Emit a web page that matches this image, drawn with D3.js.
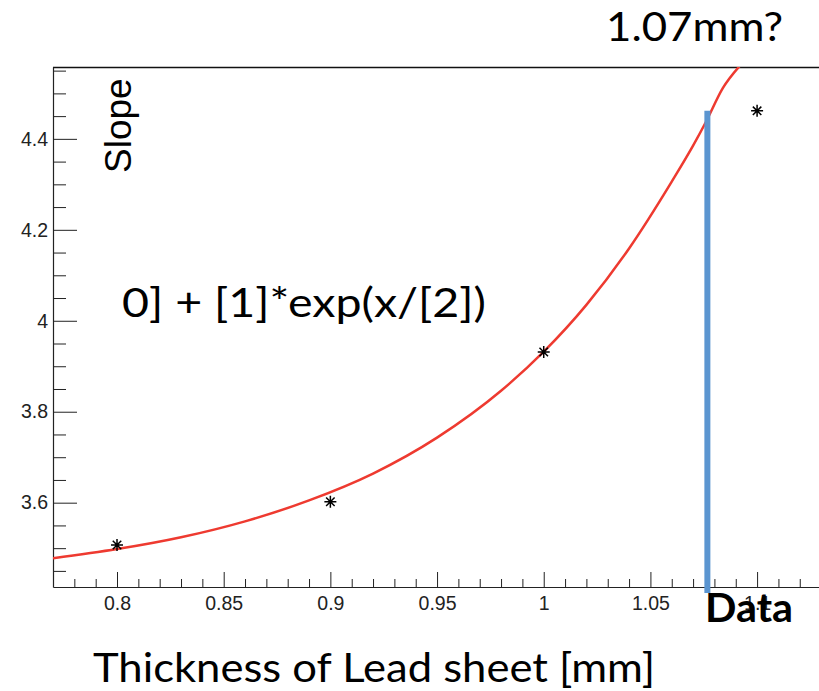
<!DOCTYPE html>
<html>
<head>
<meta charset="utf-8">
<script src="https://cdn.jsdelivr.net/npm/d3@7"></script>
<style>
  html, body { margin: 0; padding: 0; background: #fff; }
  svg { display: block; }
</style>
</head>
<body>
<svg id="chart" width="819" height="691"></svg>
<script>
// Measured slope for each lead sheet thickness [mm]
const thickness = [0.8, 0.9, 1.0, 1.1];
const slope = [3.507, 3.602, 3.9315, 4.4616];

// Fitted curve [0] + [1]*exp(x/[2]) as drawn (x, y)
const fitX = [0.770, 0.800, 0.830, 0.860, 0.890, 0.920, 0.950, 0.980, 1.000,
              1.020, 1.040, 1.060, 1.070, 1.076, 1.084, 1.0918];
const fitY = [3.478, 3.498, 3.524, 3.559, 3.605, 3.664, 3.743, 3.846, 3.932,
              4.035, 4.159, 4.306, 4.385, 4.437, 4.512, 4.560];

// Data marker: thickness estimate and measured slope
const dataThickness = 1.0767;
const dataSlope = 4.462;

// Axes
const xDomain = [0.77, 1.13];
const yDomain = [3.4146, 4.558];
const xMajorTicks = [0.8, 0.85, 0.9, 0.95, 1.0, 1.05, 1.1];
const xTickLabels = ["0.8", "0.85", "0.9", "0.95", "1", "1.05", "1.1"];
const xMinorTicks = [0.78, 0.79, 0.81, 0.82, 0.83, 0.84, 0.86, 0.87, 0.88, 0.89,
                     0.91, 0.92, 0.93, 0.94, 0.96, 0.97, 0.98, 0.99, 1.01, 1.02,
                     1.03, 1.04, 1.06, 1.07, 1.08, 1.09, 1.11, 1.12];
const yMajorTicks = [3.6, 3.8, 4.0, 4.2, 4.4];
const yTickLabels = ["3.6", "3.8", "4", "4.2", "4.4"];
const yMinorTicks = [3.45, 3.5, 3.55, 3.65, 3.7, 3.75, 3.85, 3.9, 3.95,
                     4.05, 4.1, 4.15, 4.25, 4.3, 4.35, 4.45, 4.5, 4.55];

const svg = d3.select("#chart");
const W = 819, H = 691;
const plotLeft = 53, plotTop = 67, plotBottom = 587;
const plotRight = plotLeft + (xDomain[1] - xDomain[0]) * 2133.6;

svg.append("rect").attr("width", W).attr("height", H).attr("fill", "#fff");

const x = d3.scaleLinear().domain(xDomain).range([plotLeft, plotRight]);
const y = d3.scaleLinear().domain(yDomain).range([plotBottom, plotTop]);

const axisFont = "'Liberation Sans', Arial, Helvetica, sans-serif";
const noteFont = "Lato, 'Open Sans', sans-serif";

// frame top line
svg.append("line")
  .attr("x1", plotLeft).attr("x2", W)
  .attr("y1", plotTop + 0.5).attr("y2", plotTop + 0.5)
  .attr("stroke", "#111").attr("stroke-width", 1.3);

// x axis minor ticks
svg.append("g")
  .attr("transform", `translate(0,${plotBottom})`)
  .call(d3.axisBottom(x).tickValues(xMinorTicks).tickSizeInner(-8).tickSizeOuter(0).tickFormat(""))
  .call(g => g.select(".domain").remove())
  .call(g => g.selectAll("line").attr("stroke", "#222"));

// x axis major ticks and labels
svg.append("g")
  .attr("transform", `translate(0,${plotBottom})`)
  .call(d3.axisBottom(x).tickValues(xMajorTicks).tickSizeInner(-15).tickSizeOuter(0)
        .tickPadding(9).tickFormat((d, i) => xTickLabels[i]))
  .call(g => g.select(".domain").attr("stroke", "#222").attr("stroke-width", 1.2))
  .call(g => g.selectAll("line").attr("stroke", "#222"))
  .call(g => g.selectAll("text")
        .attr("font-family", axisFont).attr("font-size", 19.5).attr("fill", "#222"));

// y axis minor ticks
svg.append("g")
  .attr("transform", `translate(${plotLeft},0)`)
  .call(d3.axisLeft(y).tickValues(yMinorTicks).tickSizeInner(-13).tickSizeOuter(0).tickFormat(""))
  .call(g => g.select(".domain").remove())
  .call(g => g.selectAll("line").attr("stroke", "#222"));

// y axis major ticks and labels
svg.append("g")
  .attr("transform", `translate(${plotLeft},0)`)
  .call(d3.axisLeft(y).tickValues(yMajorTicks).tickSizeInner(-24).tickSizeOuter(0)
        .tickPadding(5).tickFormat((d, i) => yTickLabels[i]))
  .call(g => g.select(".domain").attr("stroke", "#222").attr("stroke-width", 1.2))
  .call(g => g.selectAll("line").attr("stroke", "#222"))
  .call(g => g.selectAll("text")
        .attr("font-family", axisFont).attr("font-size", 19.5).attr("fill", "#222"));

// plotting region clip
svg.append("clipPath").attr("id", "plot-clip")
  .append("rect").attr("x", plotLeft).attr("y", plotTop)
  .attr("width", W - plotLeft).attr("height", plotBottom - plotTop);

// fit curve
const fitPts = fitX.map((v, i) => [v, fitY[i]]);
svg.append("path")
  .datum(fitPts)
  .attr("clip-path", "url(#plot-clip)")
  .attr("fill", "none")
  .attr("stroke", "#ee3a30")
  .attr("stroke-width", 2.5)
  .attr("d", d3.line().x(d => x(d[0])).y(d => y(d[1])).curve(d3.curveMonotoneX));

// asterisk markers
const r = 6, k = r * 0.7071;
const asterisk = `M${-r},0H${r}M0,${-r}V${r}M${-k},${-k}L${k},${k}M${-k},${k}L${k},${-k}`;
svg.append("g").selectAll("path")
  .data(thickness.map((t, i) => [t, slope[i]]))
  .join("path")
  .attr("transform", d => `translate(${x(d[0])},${y(d[1])})`)
  .attr("d", asterisk)
  .attr("fill", "none")
  .attr("stroke", "#000")
  .attr("stroke-width", 1.5);

// y axis title
svg.append("text")
  .attr("transform", `translate(131,173) rotate(-90)`)
  .attr("font-family", axisFont)
  .attr("font-size", 37)
  .attr("fill", "#000")
  .text("Slope");

// data thickness marker
svg.append("line")
  .attr("x1", x(dataThickness)).attr("x2", x(dataThickness))
  .attr("y1", y(dataSlope)).attr("y2", plotBottom + 6)
  .attr("stroke", "#5b95d0")
  .attr("stroke-width", 6);

// annotations
function note(txt, px, py, len, weight) {
  svg.append("text")
    .attr("x", px).attr("y", py)
    .attr("font-family", noteFont)
    .attr("font-size", 40)
    .attr("font-weight", weight || 400)
    .attr("fill", "#000")
    .attr("textLength", len)
    .attr("lengthAdjust", "spacingAndGlyphs")
    .text(txt);
}
note("1.07mm?", 606, 41, 177);
note("0] + [1]*exp(x/[2])", 122, 317, 364);
note("Data", 705, 622, 88, 700);
note("Thickness of Lead sheet [mm]", 93, 682, 562);
</script>
</body>
</html>
